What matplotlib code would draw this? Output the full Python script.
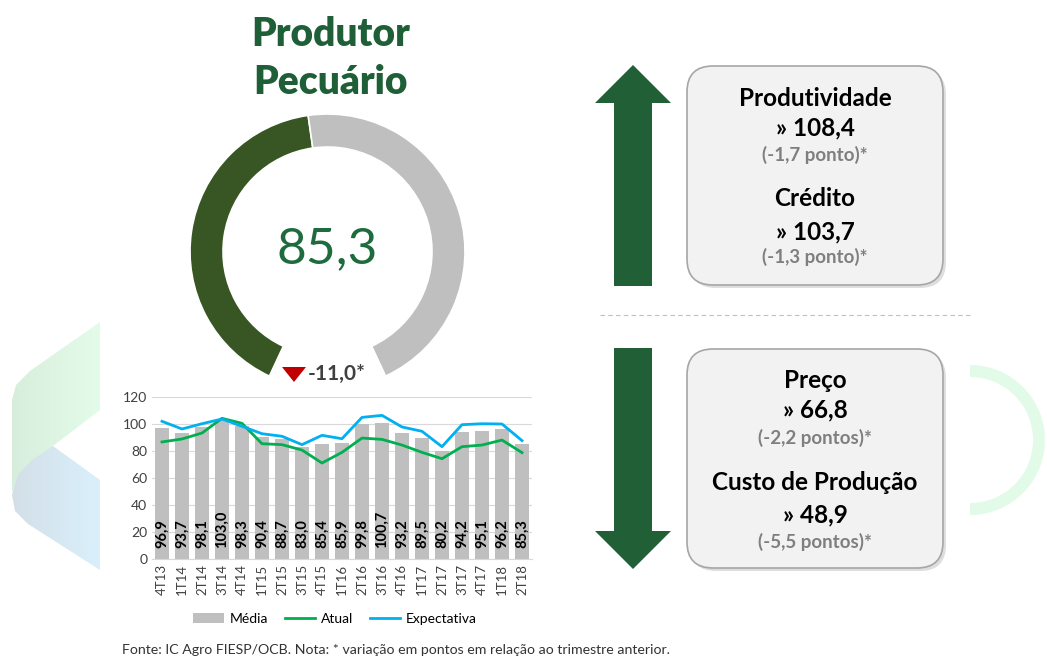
import numpy as np
import matplotlib
matplotlib.use("Agg")
import matplotlib.pyplot as plt
from matplotlib.patches import Wedge, Polygon, FancyBboxPatch, Patch
from matplotlib.lines import Line2D

plt.rcParams["font.family"] = ["Lato", "DejaVu Sans"]

# --- data ---
quarters = ["4T13", "1T14", "2T14", "3T14", "4T14", "1T15", "2T15", "3T15", "4T15",
            "1T16", "2T16", "3T16", "4T16", "1T17", "2T17", "3T17", "4T17", "1T18", "2T18"]
media = [96.9, 93.7, 98.1, 103.0, 98.3, 90.4, 88.7, 83.0, 85.4,
         85.9, 99.8, 100.7, 93.2, 89.5, 80.2, 94.2, 95.1, 96.2, 85.3]
atual = [86.7, 88.9, 93.3, 104.2, 100.5, 85.4, 84.7, 80.7, 71.1,
         79.0, 89.6, 88.6, 84.4, 79.0, 74.3, 83.2, 84.4, 88.1, 78.8]
expectativa = [102.0, 96.3, 100.2, 103.7, 98.3, 92.8, 90.9, 84.7, 91.6,
               89.1, 104.9, 106.4, 97.8, 94.6, 83.2, 99.5, 100.2, 100.0, 87.7]

gauge_value = 85.3
gauge_max = 180
gauge_change = "-11,0*"

up_items = [("Produtividade", "108,4", "(-1,7 ponto)*"),
            ("Crédito", "103,7", "(-1,3 ponto)*")]
down_items = [("Preço", "66,8", "(-2,2 pontos)*"),
              ("Custo de Produção", "48,9", "(-5,5 pontos)*")]

W, H = 1047, 657
DARK_GREEN = "#1f5f38"


def fmt(v):
    return f"{v:.1f}".replace(".", ",")


fig = plt.figure(figsize=(W / 100, H / 100), dpi=100)
fig.patch.set_facecolor("white")

# overlay axes in pixel units (y measured from top via P)
ov = fig.add_axes([0, 0, 1, 1])
ov.set_xlim(0, W)
ov.set_ylim(0, H)
ov.axis("off")


def P(y):
    return H - y


# left decorative ribbon with gradients
def gradient_poly(pts, c_left, c_right):
    pts = [(x, P(y)) for x, y in pts]
    poly = Polygon(pts, closed=True, facecolor="none", edgecolor="none")
    ov.add_patch(poly)
    xs = [p[0] for p in pts]
    ys = [p[1] for p in pts]
    c1 = np.array(matplotlib.colors.to_rgb(c_left))
    c2 = np.array(matplotlib.colors.to_rgb(c_right))
    t = np.linspace(0, 1, 64)
    img = (c1[None, :] * (1 - t[:, None]) + c2[None, :] * t[:, None])[None, :, :]
    im = ov.imshow(img, extent=[min(xs), max(xs), min(ys), max(ys)],
                   aspect="auto", zorder=0)
    im.set_clip_path(poly)


gradient_poly([(100, 322), (30, 371), (16, 385), (12, 400), (12, 492),
               (53, 446), (100, 410)], "#d8eedc", "#e3fce9")
gradient_poly([(53, 446), (100, 480), (100, 570), (28, 524), (15, 511),
               (12, 495), (18, 475), (32, 460)], "#d3dfe7", "#d9f0fc")
ov.set_xlim(0, W)
ov.set_ylim(0, H)

# right decorative arc
ov.add_patch(Wedge((970, P(440)), 75, -90, 90, width=12,
                   facecolor="#e2fbe8", edgecolor="none"))

# title
ov.text(331, P(35), "Produtor", ha="center", va="center", fontsize=28,
        fontweight="heavy", color=DARK_GREEN)
ov.text(331, P(83), "Pecuário", ha="center", va="center", fontsize=28,
        fontweight="heavy", color=DARK_GREEN)

# gauge
cx, cy, r_out, ring = 327.5, P(251.5), 137.5, 33
gap = 50.0
sweep = 360 - gap
start = 270 - gap / 2  # bottom-left, going clockwise
val_end = start - sweep * gauge_value / gauge_max
ov.add_patch(Wedge((cx, cy), r_out, val_end, start, width=ring,
                   facecolor="#375623", edgecolor="white", linewidth=1.2))
ov.add_patch(Wedge((cx, cy), r_out, start - sweep, val_end, width=ring,
                   facecolor="#bfbfbf", edgecolor="white", linewidth=1.2))
ov.text(cx, cy + 2, fmt(gauge_value), ha="center", va="center", fontsize=37,
        color="#1e6b3e")
ov.add_patch(Polygon([(282, P(367)), (306, P(367)), (294, P(382))],
                     closed=True, facecolor="#c00000", edgecolor="none"))
ov.text(308, P(374), gauge_change, ha="left", va="center", fontsize=15,
        fontweight="bold", color="#404040")


# arrows
def arrow(xc, y_tail, y_tip, shaft_hw=19, head_hw=38, head_len=38):
    d = 1 if y_tip > y_tail else -1
    y_base = y_tip - d * head_len
    pts = [(xc - shaft_hw, y_tail), (xc + shaft_hw, y_tail), (xc + shaft_hw, y_base),
           (xc + head_hw, y_base), (xc, y_tip), (xc - head_hw, y_base),
           (xc - shaft_hw, y_base)]
    ov.add_patch(Polygon([(x, P(y)) for x, y in pts], closed=True,
                         facecolor="#215f37", edgecolor="none"))


arrow(633, 286, 65)
arrow(633, 348, 569)

# dashed separator
ov.plot([600, 970], [P(315), P(315)], color="#bfbfbf", linewidth=0.8,
        linestyle=(0, (4, 3)))


# boxes
def box(x0, y0, x1, y1, items, ys):
    ov.add_patch(FancyBboxPatch((x0 + 3, P(y1) - 3), x1 - x0, y1 - y0,
                                boxstyle="round,pad=0,rounding_size=26",
                                facecolor="#c8c8c8", edgecolor="none", alpha=0.6))
    ov.add_patch(FancyBboxPatch((x0, P(y1)), x1 - x0, y1 - y0,
                                boxstyle="round,pad=0,rounding_size=26",
                                facecolor="#f2f2f2", edgecolor="#a6a6a6",
                                linewidth=1.2))
    xc = (x0 + x1) / 2
    for (name, val, chg), (yn, yv, yc) in zip(items, ys):
        ov.text(xc, P(yn), name, ha="center", va="center", fontsize=17.5,
                fontweight="bold", color="black")
        ov.text(xc, P(yv), "» " + val, ha="center", va="center", fontsize=17.5,
                fontweight="bold", color="black")
        ov.text(xc, P(yc), chg, ha="center", va="center", fontsize=13.5,
                fontweight="bold", color="#7f7f7f")


box(687, 66, 943, 285, up_items, [(98, 128, 155), (199, 232, 257)])
box(687, 349, 943, 568, down_items, [(380, 410, 438), (483, 515, 542)])

# footer
ov.text(122, P(650), "Fonte: IC Agro FIESP/OCB. Nota: * variação em pontos em relação ao trimestre anterior.",
        ha="left", va="center", fontsize=10.2, color="#333333")

# --- bar / line chart ---
ax = fig.add_axes([152 / W, (H - 559) / H, 380 / W, 162 / H])
ax.set_facecolor("none")
x = np.arange(len(quarters))
bars = ax.bar(x, media, width=0.73, color="#bfbfbf", zorder=2)
ax.plot(x, atual, color="#00b050", linewidth=2, zorder=3)
ax.plot(x, expectativa, color="#00b0f0", linewidth=2, zorder=3)
for xi, v in zip(x, media):
    ax.text(xi, 8, fmt(v), rotation=90, ha="center", va="bottom",
            fontsize=10.5, fontweight="bold", color="black", zorder=4)
ax.set_xlim(-0.5, len(quarters) - 0.5)
ax.set_ylim(0, 120)
ax.set_yticks(range(0, 121, 20))
ax.set_xticks(x)
ax.set_xticklabels(quarters, rotation=90, fontsize=9.5, color="#404040")
ax.tick_params(axis="y", labelsize=10, colors="#404040", length=0)
ax.tick_params(axis="x", length=0)
ax.grid(axis="y", color="#d9d9d9", linewidth=0.8, zorder=0)
for s in ["top", "right", "left"]:
    ax.spines[s].set_visible(False)
ax.spines["bottom"].set_color("#d9d9d9")

handles = [Patch(facecolor="#bfbfbf", label="Média"),
           Line2D([], [], color="#00b050", linewidth=2, label="Atual"),
           Line2D([], [], color="#00b0f0", linewidth=2, label="Expectativa")]
fig.legend(handles=handles, loc="center", bbox_to_anchor=(335 / W, P(619) / H),
           ncol=3, frameon=False, fontsize=10, handlelength=2.2, columnspacing=1.2,
           handletextpad=0.4)

fig.savefig("out.png", dpi=100)
